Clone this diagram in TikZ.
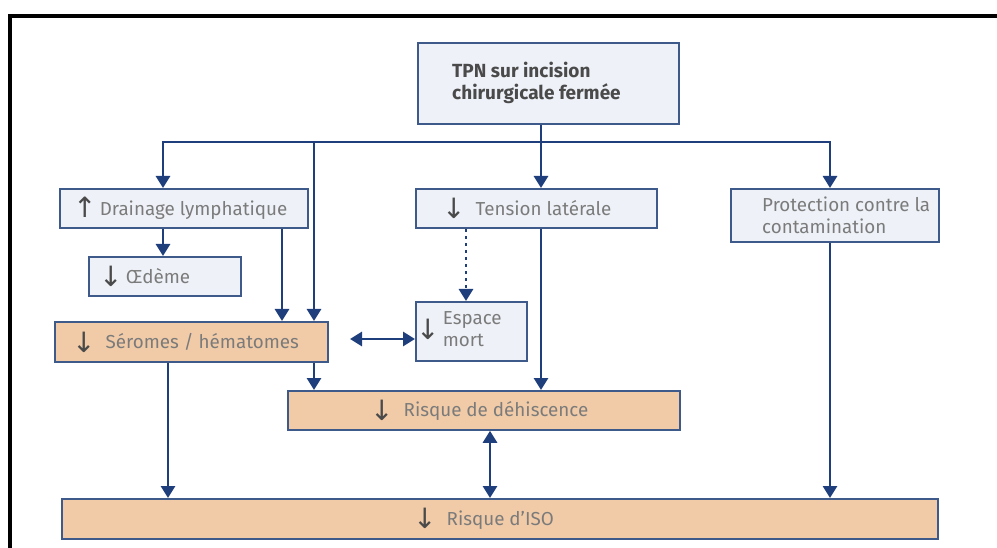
\documentclass[tikz,border=0pt]{standalone}
\usepackage{fontspec}
\setmainfont{Fira Sans}
\newfontfamily\arrfont{DejaVu Sans}
\usetikzlibrary{arrows.meta}
\definecolor{navy}{HTML}{1F3E7C}
\definecolor{bordc}{HTML}{3E5A8A}
\definecolor{lightbg}{HTML}{EEF2F8}
\definecolor{peach}{HTML}{F1CBA7}
\definecolor{txtg}{HTML}{7B7B7B}
\definecolor{txtd}{HTML}{4A4A4A}
\newcommand{\arrdn}{\raisebox{-3.5pt}{\fontsize{28}{22}\arrfont\color{txtd}↓}}
\newcommand{\arrup}{\raisebox{-1.5pt}{\fontsize{28}{22}\arrfont\color{txtd}↑}}
\begin{document}
\begin{tikzpicture}[x=1pt,y=-1pt,
  box/.style={draw=bordc, line width=1.8pt, fill=lightbg, anchor=north west, inner sep=0pt},
  pbox/.style={box, fill=peach},
  lab/.style={inner sep=0pt, anchor=west, font=\fontsize{18.8}{22}\selectfont, text=txtg, align=left},
  conn/.style={draw=navy, line width=2.8pt, -{Triangle[width=14pt,length=12pt]}},
  dbl/.style={draw=navy, line width=2.8pt, {Triangle[width=14pt,length=12pt]}-{Triangle[width=14pt,length=12pt]}},
  dotconn/.style={conn, dash pattern=on 3pt off 4pt}]
\useasboundingbox (0,0) rectangle (997,548);
% outer frame
\draw[line width=3.5pt, black] (10,560) -- (10,16) -- (1010,16);

% boxes
\node[box, minimum width=261pt, minimum height=81pt,
  label={[lab, anchor=west, xshift=35pt, font=\fontsize{19}{22}\selectfont\bfseries, text=txtd]west:{TPN sur incision\\chirurgicale fermée}}] (tpn) at (417,42) {};
\node[box, minimum width=248pt, minimum height=39pt,
  label={[lab, anchor=west, xshift=14pt]west:{\arrup\,Drainage lymphatique}}] (drain) at (59,188) {};
\node[box, minimum width=152pt, minimum height=39pt,
  label={[lab, anchor=west, xshift=11pt]west:{\arrdn\,Œdème}}] (oed) at (88,256) {};
\node[box, minimum width=241pt, minimum height=39pt,
  label={[lab, anchor=west, xshift=27pt]west:{\arrdn\ \ Tension latérale}}] (tens) at (415,188) {};
\node[box, minimum width=208pt, minimum height=53pt,
  label={[lab, anchor=west, xshift=32pt]west:{Protection contre la\\contamination}}] (prot) at (730,188) {};
\node[box, minimum width=111pt, minimum height=59pt,
  label={[lab, anchor=west, xshift=1pt]west:{\arrdn\,\begin{tabular}[c]{@{}l@{}}Espace\\mort\end{tabular}}}] (esp) at (415,301) {};
\node[pbox, minimum width=273pt, minimum height=40pt,
  label={[lab, anchor=west, xshift=18pt]west:{\arrdn\ \ Séromes / hématomes}}] (sero) at (54,321) {};
\node[pbox, minimum width=392pt, minimum height=39pt,
  label={[lab, anchor=west, xshift=83pt]west:{\arrdn\ \ Risque de déhiscence}}] (dehis) at (287,390) {};
\node[pbox, minimum width=876pt, minimum height=40pt,
  label={[lab, anchor=west, xshift=352pt]west:{\arrdn\ \ Risque d’ISO}}] (iso) at (61,498) {};

% helper x-positions
\coordinate (bus) at (0,142);
\coordinate (x163) at (163,0);
\coordinate (x168) at (168,0);
\coordinate (x282) at (282,0);
\coordinate (x314) at (314,0);
\coordinate (x466) at (466,0);
\coordinate (x490) at (490,0);
\coordinate (x541) at (541,0);
\coordinate (x830) at (830,0);
\coordinate (dl) at (350,339);

% connectors
\draw[conn] (tpn.south -| x541) -- (tens.north -| x541);
\draw[conn] (bus -| x541) -| (drain.north -| x163);
\draw[conn] (bus -| x541) -| (prot.north -| x830);
\draw[conn] (bus -| x314) -- (sero.north -| x314);
\draw[conn] (drain.south -| x163) -- (oed.north -| x163);
\draw[conn] (drain.south -| x282) -- (sero.north -| x282);
\draw[conn] (sero.south -| x314) -- (dehis.north -| x314);
\draw[conn] (sero.south -| x168) -- (iso.north -| x168);
\draw[dbl] (dl) -- (esp.west |- dl);
\draw[dotconn] (tens.south -| x466) -- (esp.north -| x466);
\draw[conn] (tens.south -| x541) -- (dehis.north -| x541);
\draw[dbl] (dehis.south -| x490) -- (iso.north -| x490);
\draw[conn] (prot.south -| x830) -- (iso.north -| x830);
\end{tikzpicture}
\end{document}
